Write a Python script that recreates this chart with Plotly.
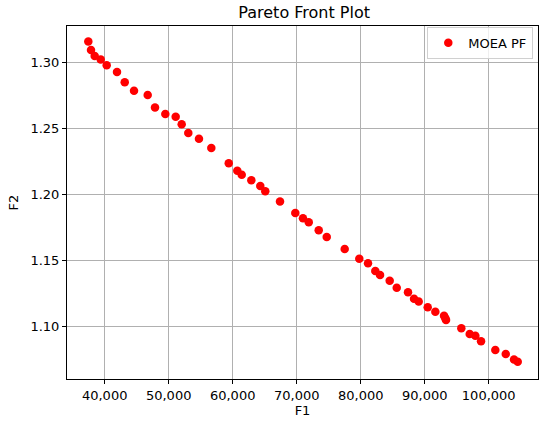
import plotly.graph_objects as go

# Pareto front values
f1 = [37440, 37860, 38440, 39380, 40310, 41920, 43130, 44580, 46720, 47860,
      49470, 51090, 52030, 53060, 54730, 56660, 59380, 60720, 61410, 62910,
      64310, 65090, 67390, 69780, 70980, 71880, 73440, 74690, 77500, 79780,
      81140, 82280, 83020, 84530, 85630, 87390, 88330, 89060, 90470, 91660,
      93020, 93200, 93330, 95720, 97030, 97910, 98800, 101030, 102660, 103950,
      104530]
f2 = [1.316, 1.3095, 1.305, 1.3024, 1.298, 1.2928, 1.285, 1.2786, 1.2754, 1.266,
      1.261, 1.259, 1.2533, 1.2467, 1.2423, 1.2352, 1.2237, 1.218, 1.215, 1.2108,
      1.2064, 1.2024, 1.1947, 1.186, 1.182, 1.179, 1.173, 1.1678, 1.1587, 1.1514,
      1.1479, 1.142, 1.139, 1.1347, 1.1294, 1.126, 1.121, 1.1189, 1.1145, 1.1112,
      1.1082, 1.1065, 1.105, 1.0987, 1.0943, 1.093, 1.0888, 1.0822, 1.0792, 1.075,
      1.0733]

x_ticks = [40000, 50000, 60000, 70000, 80000, 90000, 100000]
y_ticks = [1.10, 1.15, 1.20, 1.25, 1.30]

fig = go.Figure()
fig.add_trace(go.Scatter(
    x=f1, y=f2, mode='markers', name='MOEA PF',
    marker=dict(color='red', size=8.5, line=dict(width=0)),
))

axis_common = dict(
    showgrid=True, gridcolor='#b0b0b0', gridwidth=0.8,
    showline=True, linecolor='black', linewidth=1, mirror=True,
    ticks='outside', ticklen=4, tickcolor='black',
    zeroline=False, automargin=False,
    tickfont=dict(family='DejaVu Sans', size=13, color='black'),
)

fig.update_layout(
    width=550, height=422,
    paper_bgcolor='white', plot_bgcolor='white',
    margin=dict(l=67, r=12, t=26, b=43),
    title=dict(text='Pareto Front Plot', x=0.553, xanchor='center', y=0.97, yanchor='middle',
               font=dict(family='DejaVu Sans', size=16, color='black')),
    font=dict(family='DejaVu Sans', color='black'),
    xaxis=dict(axis_common, range=[34110, 107700], tickvals=x_ticks, tickformat=',d',
               title=dict(text='F1', font=dict(size=13), standoff=4)),
    yaxis=dict(axis_common, range=[1.0602, 1.3277], tickvals=y_ticks, tickformat='.2f',
               title=dict(text='F2', font=dict(size=13), standoff=8)),
    showlegend=True,
    legend=dict(x=0.99, y=0.998, xanchor='right', yanchor='top',
                bgcolor='rgba(255,255,255,0.8)', bordercolor='#d0d0d0', borderwidth=1,
                font=dict(family='DejaVu Sans', size=13, color='black')),
)

# drop the browser's default body margin so the figure sits at the page corner
fig.write_html("out.html", config={'displayModeBar': False},
               post_script="document.body.style.margin='0';")
